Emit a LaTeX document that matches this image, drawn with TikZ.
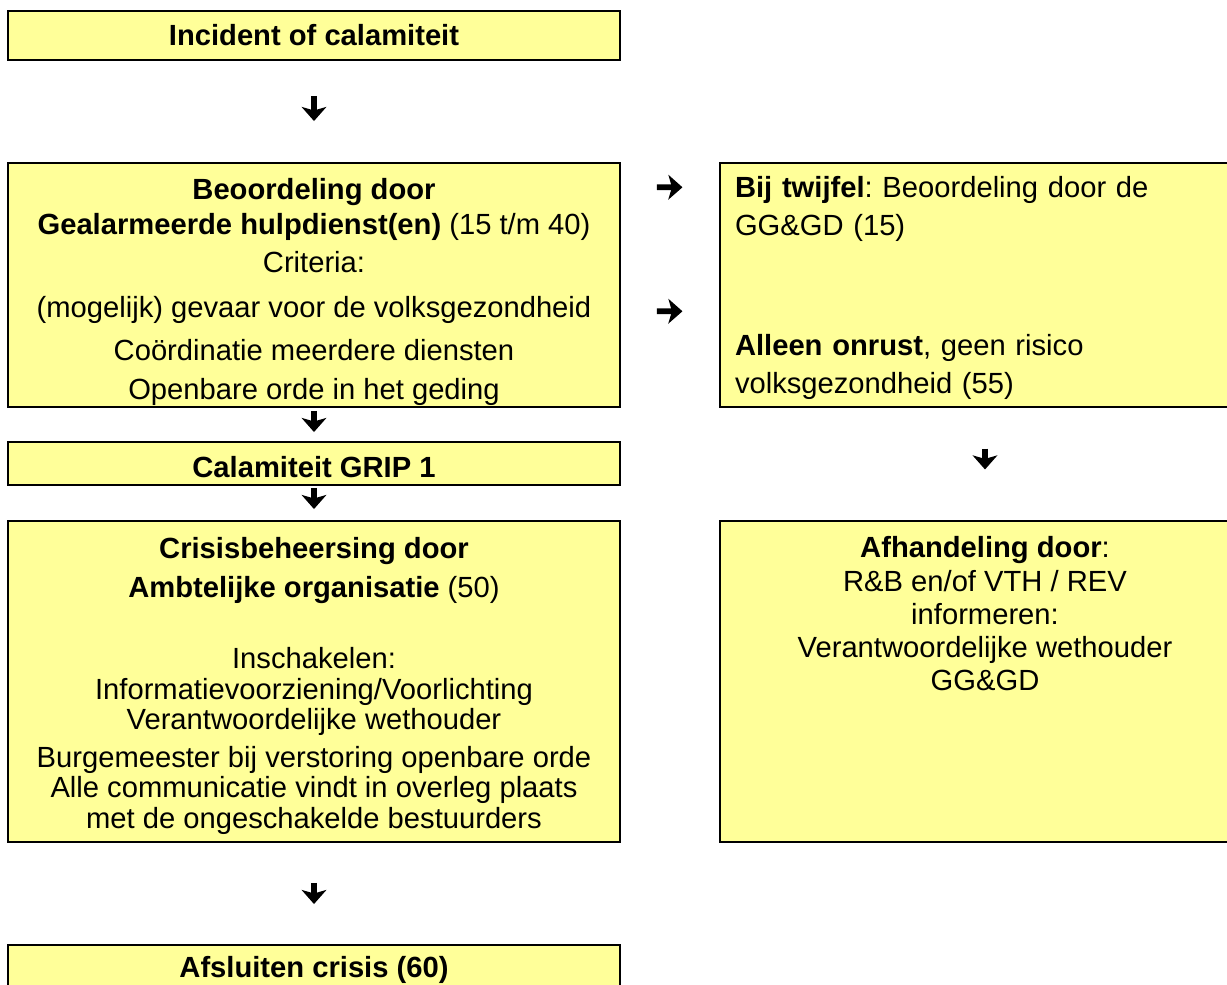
\documentclass[tikz,border=0pt]{standalone}
\usepackage{fontspec}
\setmainfont{Liberation Sans}
\frenchspacing
\usetikzlibrary{arrows.meta}
\definecolor{boxyellow}{RGB}{255,255,153}
\begin{document}
\begin{tikzpicture}[
    box/.style={draw,fill=boxyellow,line width=1.1pt,minimum width=12.24cm,inner sep=0pt,align=center,font=\fontsize{16.6}{19.9}\selectfont},
    sidebox/.style={draw,fill=boxyellow,line width=0.6pt,minimum width=10.6cm,inner sep=0pt},
    flow/.style={line width=3.2pt,-{Stealth[length=8pt,width=14pt,inset=2pt]}}]
\useasboundingbox (0,0) rectangle (24.54,-19.7);
    \node[box,minimum height=0.98cm] (incident) at (6.28,-0.71) {\textbf{Incident of calamiteit}};
    \node[box,minimum height=4.88cm] (judge) at (6.28,-5.70) {\rule{0pt}{20pt}\textbf{Beoordeling door}\\
        \textbf{Gealarmeerde hulpdienst(en)} (15 t/m 40)\\[1.7pt]
        Criteria:\\[5.7pt]
        (mogelijk) gevaar voor de volksgezondheid\\[4.6pt]
        Coördinatie meerdere diensten\\[2.3pt]
        Openbare orde in het geding};
    \node[box,minimum height=0.86cm] (grip) at (6.28,-9.27) {\rule{0pt}{16pt}\textbf{Calamiteit GRIP 1}};
    \node[box,minimum height=6.42cm,font=\fontsize{16.6}{17.3}\selectfont] (crisis) at (6.28,-13.63) {\rule{0pt}{17.2pt}\textbf{Crisisbeheersing door}\\[4.9pt]
        \textbf{Ambtelijke organisatie} (50)\\[23.1pt]
        Inschakelen:\\
        Informatievoorziening/Voorlichting\\
        Verantwoordelijke wethouder\\[4.3pt]
        Burgemeester bij verstoring openbare orde\\
        Alle communicatie vindt in overleg plaats\\
        met de ongeschakelde bestuurders};
    \node[box,minimum height=0.98cm] (close) at (6.28,-19.39) {\textbf{Afsluiten crisis (60)}};
% right column
    \node[sidebox,minimum height=4.88cm,text width=10cm,inner xsep=0.3cm,align=left,font=\fontsize{16.6}{21.6}\selectfont] (doubt) at (19.70,-5.70) {\rule{0pt}{15.5pt}\textbf{Bij twijfel}: Beoordeling door de\\
        GG\&GD (15)\\[46.7pt]
        \textbf{Alleen onrust}, geen risico\\
        volksgezondheid (55)};
    \node[sidebox,minimum height=6.42cm] (handling) at (19.70,-13.63) {};
    \node[anchor=north,inner sep=0pt,align=center,font=\fontsize{16.6}{18.8}\selectfont] (handlingtext) at ([yshift=-0.32cm]handling.north) {\textbf{Afhandeling door}:\\
        R\&B en/of VTH / REV\\
        informeren:\\
        Verantwoordelijke wethouder\\
        GG\&GD};
% arrows
\foreach \a/\b/\s/\e in {incident/judge/0.7/0.82,judge/grip/0.06/0.18,grip/crisis/0.04/0.22,crisis/close/0.8/0.8,doubt/handling/0.82/1.02}
{
    \draw[flow,shorten <=\s cm,shorten >=\e cm] (\a) -- (\b);
}
\foreach \y in {0.5,2.98}
{
    \draw[flow,shorten <=0.72cm,shorten >=0.74cm] ([yshift=-\y cm]judge.north east) -- ([yshift=-\y cm]doubt.north west);
}
\end{tikzpicture}
\end{document}
